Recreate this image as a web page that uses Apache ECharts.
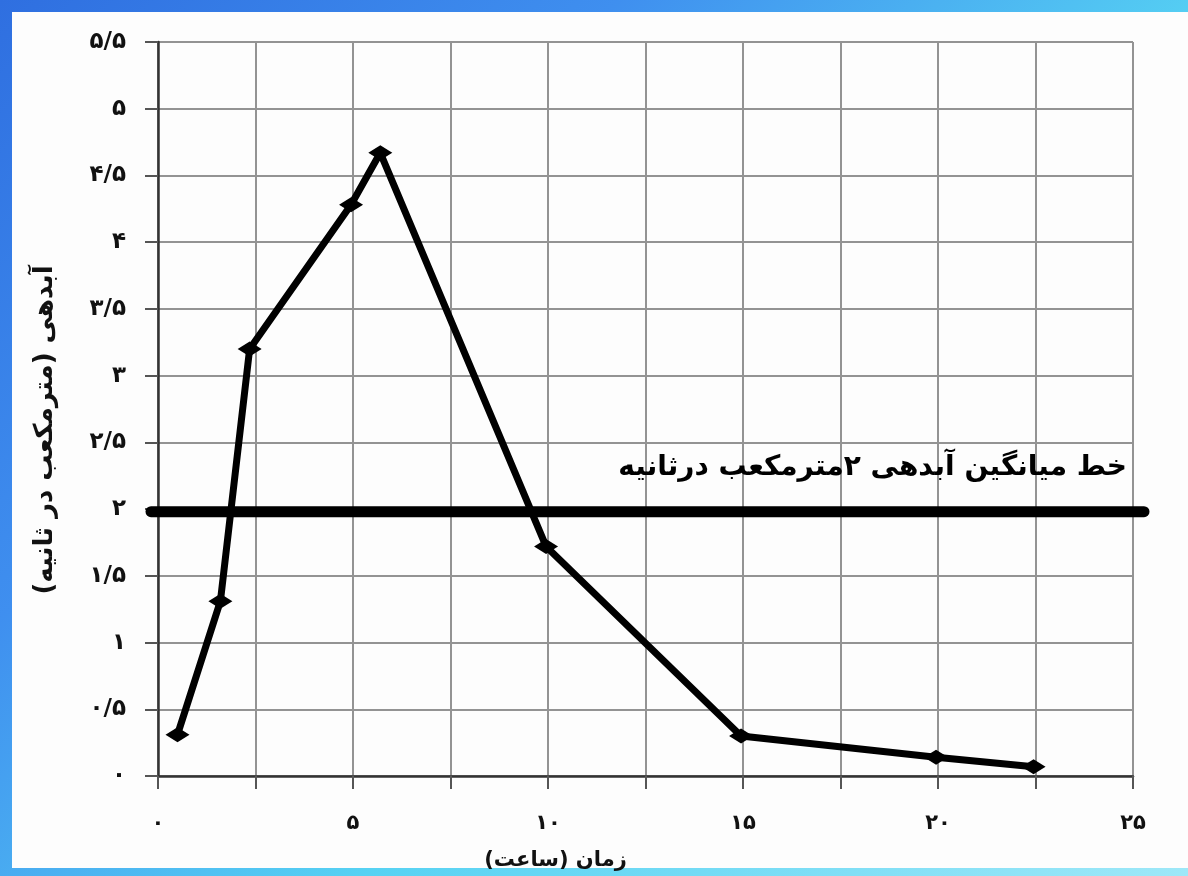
<!DOCTYPE html>
<html>
<head>
<meta charset="utf-8">
<script src="https://cdn.jsdelivr.net/npm/echarts@6/dist/echarts.min.js"></script>
<style>
html,body{margin:0;padding:0;width:1188px;height:876px;overflow:hidden;}
body{background:linear-gradient(135deg,#2f6fe0 0%,#3f8fef 30%,#56d2f3 60%,#9ee8f8 100%);}
#frame{position:absolute;left:12px;top:12px;width:1176px;height:856px;background:#fdfdfd;}
#chart{position:absolute;left:-12px;top:-12px;width:1188px;height:876px;}
</style>
</head>
<body>
<div id="frame"><div id="chart"></div></div>
<script>
// ---- data ----
const timeHours = [0.5, 1.6, 2.35, 4.95, 5.7, 9.95, 14.95, 19.95, 22.45];
const discharge = [0.31, 1.31, 3.2, 4.28, 4.67, 1.72, 0.3, 0.14, 0.07];
const meanLineSpan = [0, 1];   // full width of the (wider) overlay grid
const meanValue = 2;
const yTickLabels = ["۰","۰/۵","۱","۱/۵","۲","۲/۵","۳","۳/۵","۴","۴/۵","۵","۵/۵"];
const xTickLabels = {0:"۰",5:"۵",10:"۱۰",15:"۱۵",20:"۲۰",25:"۲۵"};
const yAxisTitle = "آبدهی (مترمکعب در ثانیه)";
const xAxisTitle = "زمان (ساعت)";
const meanLabel = "خط میانگین آبدهی ۲مترمکعب درثانیه";

const font = "DejaVu Sans";
const chart = echarts.init(document.getElementById('chart'), null, {renderer:'canvas'});
chart.setOption({
  backgroundColor: 'transparent',
  animation: false,
  grid: [
    {left:158, right:55, top:42, bottom:96, containLabel:false},
    {left:151, right:44, top:42, bottom:96, containLabel:false}
  ],
  xAxis: [{
    type:'value', gridIndex:0, min:0, max:25, interval:2.5,
    axisLine:{show:true, onZero:false, lineStyle:{color:'#333', width:2.5}},
    axisTick:{show:true, length:13, inside:false, lineStyle:{color:'#555', width:2}},
    splitLine:{show:true, lineStyle:{color:'#939393', width:2}},
    axisLabel:{margin:37, color:'#111', fontFamily:font, fontWeight:'bold', fontSize:21,
      formatter:v => (xTickLabels[v] !== undefined ? xTickLabels[v] : '')},
    name:xAxisTitle, nameLocation:'middle', nameGap:74,
    nameTextStyle:{color:'#111', fontFamily:font, fontWeight:'bold', fontSize:21, padding:[0,180,0,0]}
  },{
    type:'value', gridIndex:1, min:0, max:1, show:false
  }],
  yAxis: [{
    type:'value', gridIndex:0, min:0, max:5.5, interval:0.5,
    axisLine:{show:true, onZero:false, lineStyle:{color:'#333', width:2.5}},
    axisTick:{show:true, length:13, lineStyle:{color:'#555', width:2}},
    splitLine:{show:true, lineStyle:{color:'#939393', width:2}},
    axisLabel:{margin:32, color:'#111', fontFamily:font, fontWeight:'bold', fontSize:23,
      formatter:(v) => yTickLabels[Math.round(v*2)]},
    name:yAxisTitle, nameLocation:'middle', nameGap:100, nameRotate:90,
    nameTextStyle:{color:'#111', fontFamily:font, fontWeight:'bold', fontSize:26, padding:[0,42,0,0]}
  },{
    type:'value', gridIndex:1, min:0, max:5.5, show:false
  }],
  series: [
    {
      type:'line', name:'mean', xAxisIndex:1, yAxisIndex:1, symbol:'none', z:3, clip:false,
      data: meanLineSpan.map(x => [x, meanValue]),
      lineStyle:{color:'#000', width:11, cap:'round'},
      endLabel:{show:true, formatter:meanLabel, align:'right', verticalAlign:'bottom',
        offset:[-25,-30], color:'#000', fontFamily:font, fontWeight:'bold', fontSize:28}
    },
    {
      type:'line', name:'hydrograph', xAxisIndex:0, yAxisIndex:0, clip:false, z:4,
      data: timeHours.map((x,i) => [x, discharge[i]]),
      lineStyle:{color:'#000', width:7, join:'round'},
      symbol:'diamond', symbolSize:[24,15],
      itemStyle:{color:'#000'}
    }
  ]
});
</script>
</body>
</html>
